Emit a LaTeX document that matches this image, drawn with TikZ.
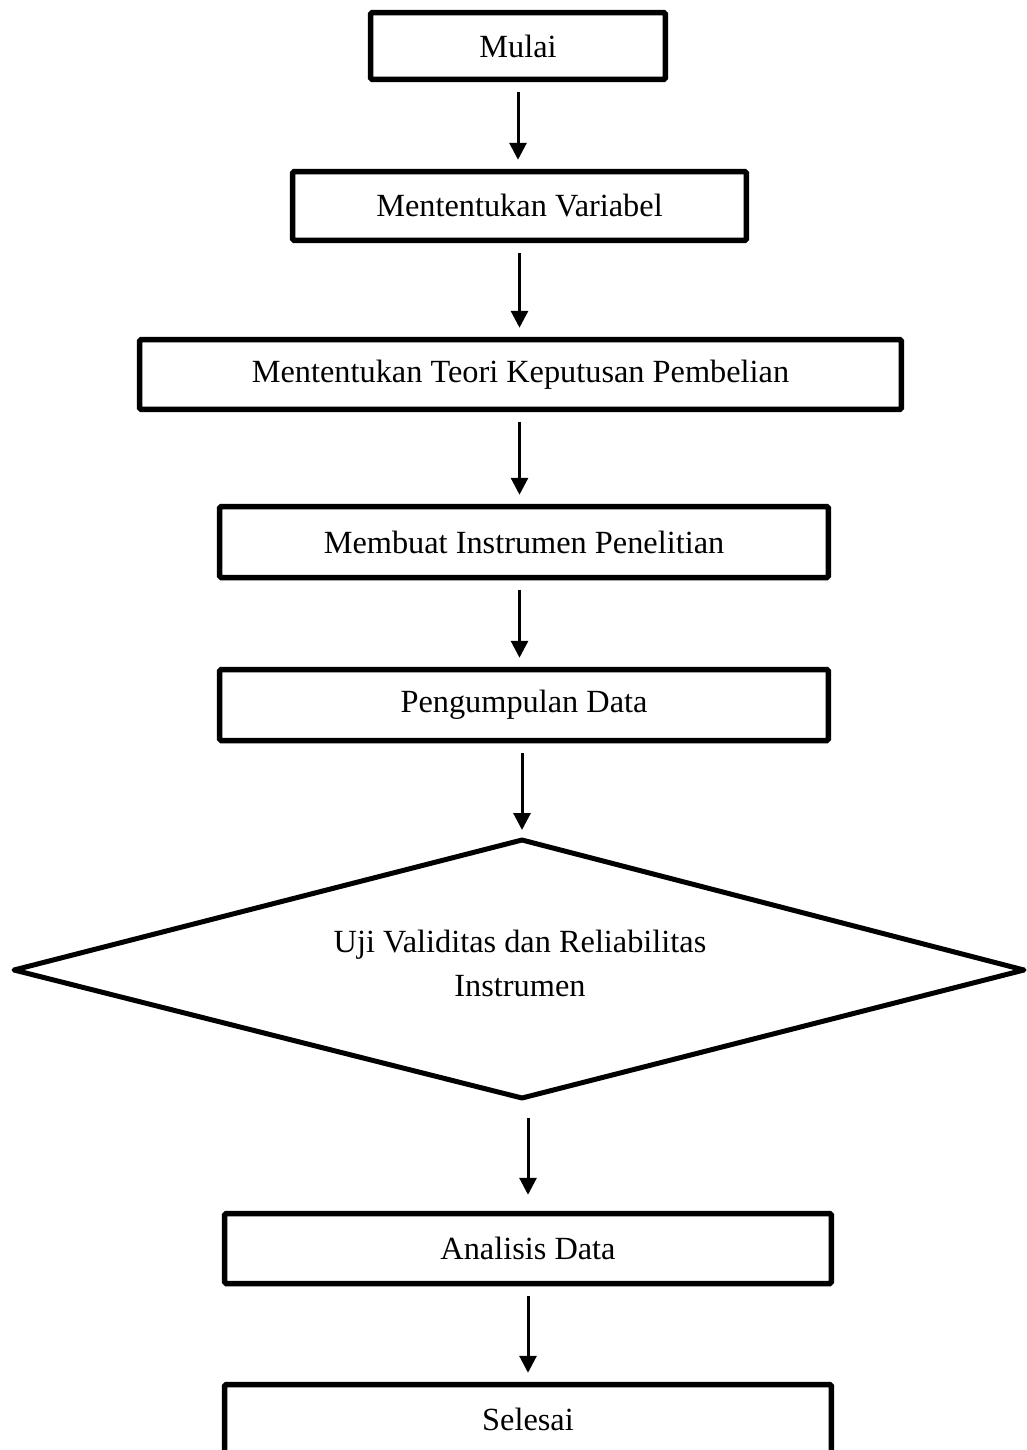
\documentclass[tikz,border=0pt]{standalone}
\usepackage{fontspec}
\setmainfont{Liberation Serif}
\usetikzlibrary{arrows.meta}
\tikzset{
    kotak/.style={draw, rectangle, line width=0.11cm, rounded corners=1pt, font=\fontsize{18.4}{22}\selectfont, inner sep=0pt},
    panah/.style={-{Triangle[length=0.34cm,width=0.34cm]}, line width=0.06cm, shorten <=0.2cm, shorten >=0.18cm}
}
\begin{document}
\begin{tikzpicture}[x=0.02cm, y=-0.02cm]
    \useasboundingbox (0,0) rectangle (1027,1450);
    \node[kotak, minimum width=5.9cm, minimum height=1.34cm] (mulai) at (518,46) {Mulai};
    \node[kotak, minimum width=9.08cm, minimum height=1.38cm] (variabel) at (519.5,206) {Mententukan Variabel};
    \node[kotak, minimum width=15.24cm, minimum height=1.4cm] (teori) at (520.5,374.5) {Mententukan Teori Keputusan Pembelian};
    \node[kotak, minimum width=12.18cm, minimum height=1.42cm] (instrumen) at (524,542) {Membuat Instrumen Penelitian};
    \node[kotak, minimum width=12.18cm, minimum height=1.42cm] (kumpul) at (524,705) {Pengumpulan Data};
    % belah ketupat
    \coordinate (ujiatas) at (522,840);
    \coordinate (ujikiri) at (14,970);
    \coordinate (ujikanan) at (1024,970);
    \coordinate (ujibawah) at (522,1098);
    \draw[line width=0.1cm, line join=round] (ujiatas) -- (ujikanan) -- (ujibawah) -- (ujikiri) -- cycle;
    \node[align=center, font=\fontsize{18.4}{25}\selectfont] (uji) at (520,963) {Uji Validitas dan Reliabilitas\\Instrumen};
    \node[kotak, minimum width=12.14cm, minimum height=1.4cm] (analisis) at (528,1248.5) {Analisis Data};
    \node[kotak, minimum width=12.14cm, minimum height=1.4cm] (selesai) at (528,1419.5) {Selesai};
    % panah
    \draw[panah] (mulai.south) -- (mulai.south |- variabel.north);
    \draw[panah] (variabel.south) -- (variabel.south |- teori.north);
    \draw[panah] (variabel.south |- teori.south) -- (variabel.south |- instrumen.north);
    \draw[panah] (variabel.south |- instrumen.south) -- (variabel.south |- kumpul.north);
    \draw[panah, shorten >=0.2cm] (ujiatas |- kumpul.south) -- (ujiatas);
    \draw[panah, shorten <=0.4cm, shorten >=0.32cm] (analisis.north |- ujibawah) -- (analisis.north);
    \draw[panah] (analisis.south) -- (selesai.north);
\end{tikzpicture}
\end{document}
